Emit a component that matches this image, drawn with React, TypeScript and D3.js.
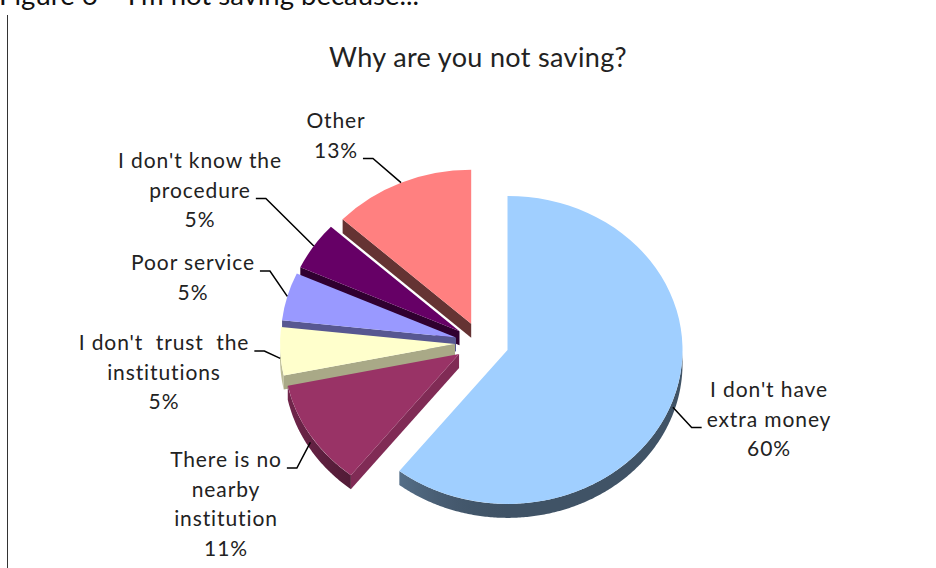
import React, { useEffect, useRef } from "react";
import * as d3 from "d3";

// ---------- data ----------
const categories = [
  "I don't have extra money",
  "There is no nearby institution",
  "I don't trust the institutions",
  "Poor service",
  "I don't know the procedure",
  "Other",
];
const values = [60, 11, 5, 5, 5, 13];
const percentLabels = ["60%", "11%", "5%", "5%", "5%", "13%"];
const labelLines = [
  ["I don't have", "extra money"],
  ["There is no", "nearby", "institution"],
  ["I don't  trust  the", "institutions"],
  ["Poor service"],
  ["I don't know the", "procedure"],
  ["Other"],
];
const topColors = ["#a0cfff", "#993366", "#ffffcc", "#9999ff", "#660066", "#ff8080"];
const chartTitle = "Why are you not saving?";
const caption = "Figure 6 \u2013 I'm not saving because...";

// ---------- layout ----------
const W = 936;
const H = 568;
const PIE = { cx: 482, cy: 343, rx: 175, ry: 154, depth: 14, explode: 27, explodeY: 0.78 };
const LH = 29.5;
const LABEL_POS = [
  { x: 769, y: 397, attach: 1, side: "left" },
  { x: 226, y: 467, attach: 0, side: "right" },
  { x: 164, y: 350, attach: 0, side: "right" },
  { x: 193, y: 270, attach: 0, side: "right" },
  { x: 200, y: 168, attach: 1, side: "right" },
  { x: 336, y: 128, attach: 1, side: "right" },
];
const FONT = "Lato, 'Liberation Sans', sans-serif";

function shade(c: string, b: number) {
  const r = d3.rgb(c);
  return d3.rgb(r.r * b, r.g * b, r.b * b).formatHex();
}

export default function App() {
  const ref = useRef<SVGSVGElement>(null);

  useEffect(() => {
    const svg = d3.select(ref.current);
    svg.selectAll("*").remove();
    const D = PIE.depth;
    const k = PIE.ry / PIE.rx;

    svg.append("rect").attr("width", W).attr("height", H).attr("fill", "#ffffff");

    // caption (cut at the top, as in the source page) and frame line
    svg.append("text").attr("x", -1).attr("y", 5).attr("font-family", FONT)
      .attr("font-size", 27.5).attr("fill", "#111").text(caption);
    svg.append("line").attr("x1", 7.5).attr("x2", 7.5).attr("y1", 15).attr("y2", H)
      .attr("stroke", "#333").attr("stroke-width", 1);

    // title
    svg.append("text").attr("x", 478).attr("y", 67).attr("text-anchor", "middle")
      .attr("font-family", FONT).attr("font-size", 27).attr("letter-spacing", 0.35)
      .attr("fill", "#222").text(chartTitle);

    const pie = d3.pie<number>().sort(null).value((d) => d);
    const arcsData = pie(values);
    const slices = arcsData.map((a, i) => {
      const mid = (a.startAngle + a.endAngle) / 2;
      const c = {
        x: PIE.cx + PIE.explode * Math.sin(mid),
        y: PIE.cy - PIE.explode * PIE.explodeY * Math.cos(mid),
      };
      return { a, i, mid, c };
    });
    const pt = (c: { x: number; y: number }, th: number, dz = 0): [number, number] => [
      c.x + PIE.rx * Math.sin(th),
      c.y - PIE.ry * Math.cos(th) + dz,
    ];

    // gradients for curved walls
    const defs = svg.append("defs");
    const wallB = (nx: number) => 0.4 + 0.35 * Math.pow(Math.max(0, -nx), 2);
    slices.forEach((s) => {
      const g = defs.append("linearGradient").attr("id", "wall" + s.i)
        .attr("gradientUnits", "userSpaceOnUse")
        .attr("x1", s.c.x - PIE.rx).attr("x2", s.c.x + PIE.rx).attr("y1", 0).attr("y2", 0);
      d3.range(0, 1.0001, 0.05).forEach((t) => {
        g.append("stop").attr("offset", t).attr("stop-color", shade(topColors[s.i], wallB(2 * t - 1)));
      });
    });

    type Wall = { d: string; fill: string; z: number };
    const walls: Wall[] = [];
    slices.forEach((s) => {
      const { a, c, i } = s;
      ([[a.startAngle, -1], [a.endAngle, 1]] as [number, number][]).forEach(([th, sgn]) => {
        const nx = sgn * Math.cos(th);
        const ny = sgn * Math.sin(th);
        if (ny > 0.01) {
          const p = pt(c, th);
          const d = `M${c.x},${c.y}L${p[0]},${p[1]}L${p[0]},${p[1] + D}L${c.x},${c.y + D}Z`;
          walls.push({ d, fill: shade(topColors[i], 0.6 + 0.3 * nx), z: (c.y + p[1]) / 2 });
        }
      });
      const b0 = Math.max(a.startAngle, Math.PI / 2);
      const b1 = Math.min(a.endAngle, (3 * Math.PI) / 2);
      if (b1 > b0) {
        const n = Math.max(2, Math.ceil((b1 - b0) / 0.01));
        const top = d3.range(n + 1).map((j) => pt(c, b0 + ((b1 - b0) * j) / n));
        const bottom = top.slice().reverse().map((p) => [p[0], p[1] + D]);
        const d = "M" + top.concat(bottom as any).map((p) => p.join(",")).join("L") + "Z";
        walls.push({ d, fill: `url(#wall${i})`, z: d3.max(top, (p) => p[1]) as number });
      }
    });
    walls.sort((p, q) => p.z - q.z);
    const gPie = svg.append("g");
    walls.forEach((w) => {
      gPie.append("path").attr("d", w.d).attr("fill", w.fill);
    });

    const arc = d3.arc<d3.PieArcDatum<number>>().innerRadius(0).outerRadius(PIE.rx);
    slices.forEach((s) => {
      gPie.append("path")
        .attr("d", arc(s.a) as string)
        .attr("transform", `translate(${s.c.x},${s.c.y}) scale(1,${k})`)
        .attr("fill", topColors[s.i])
        .append("title").text(categories[s.i]);
    });

    // labels and leaders
    const gLab = svg.append("g").attr("font-family", FONT).attr("font-size", 21)
      .attr("letter-spacing", 0.9).attr("fill", "#222");
    slices.forEach((s) => {
      const lp = LABEL_POS[s.i];
      const lines = [...labelLines[s.i], percentLabels[s.i]];
      let attachW = 0;
      lines.forEach((t, j) => {
        const tx = gLab.append("text").attr("x", lp.x).attr("y", lp.y + j * LH)
          .attr("text-anchor", "middle").style("white-space", "pre").text(t);
        if (j === lp.attach) attachW = (tx.node() as SVGTextElement).getComputedTextLength();
      });
      const by = lp.y + lp.attach * LH + 1;
      const sx = lp.side === "right" ? lp.x + attachW / 2 + 5 : lp.x - attachW / 2 - 5;
      const ex = lp.side === "right" ? sx + 10 : sx - 10;
      const front = -Math.cos(s.mid) > 0;
      const ap = pt(s.c, s.mid, front ? D / 2 : 0);
      gLab.append("path")
        .attr("d", `M${sx},${by}L${ex},${by}L${ap[0]},${ap[1]}`)
        .attr("fill", "none").attr("stroke", "#000").attr("stroke-width", 1.5);
    });
  }, []);

  return (
    <svg
      ref={ref}
      width={W}
      height={H}
      style={{ position: "absolute", left: 0, top: 0, display: "block" }}
    />
  );
}
